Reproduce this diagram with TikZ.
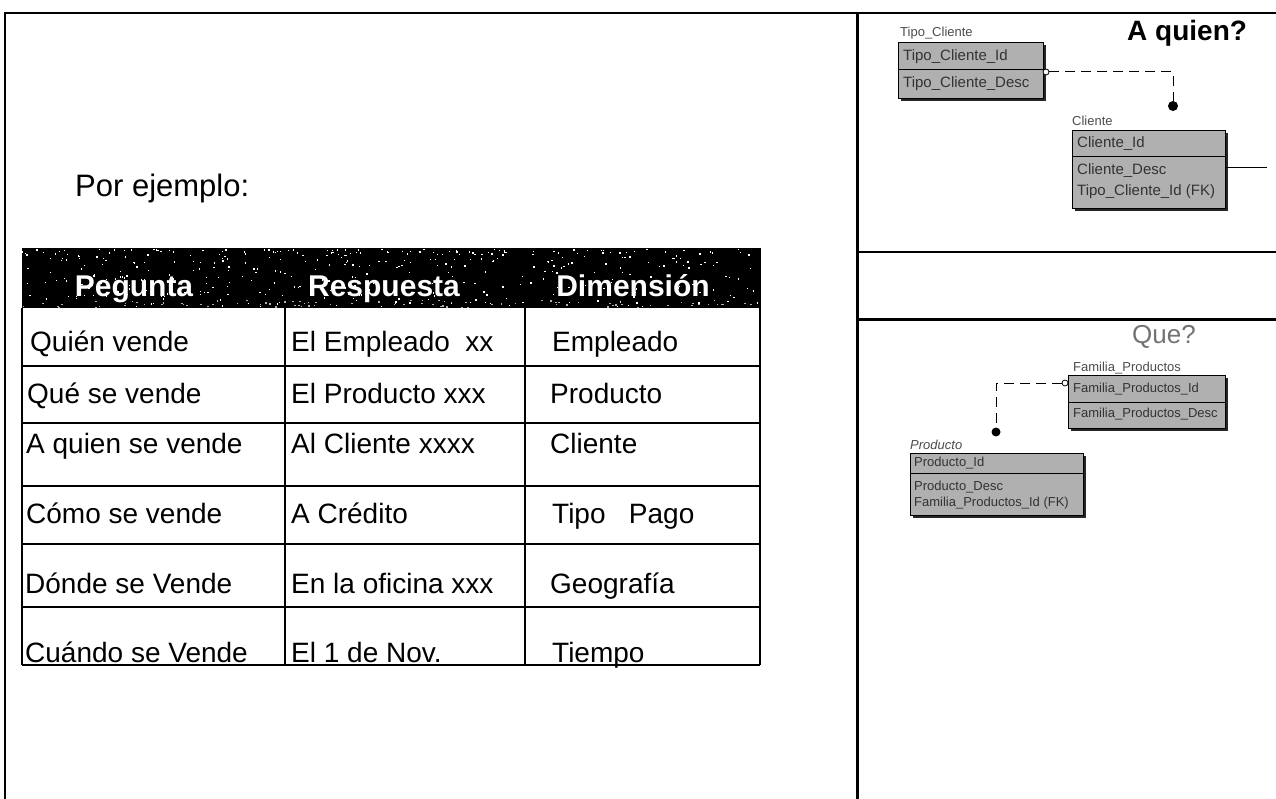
\documentclass[tikz,border=0pt]{standalone}
\usepackage{fontspec}
\setmainfont{Liberation Sans}
\usetikzlibrary{shadows,calc}
\begin{document}
\begin{tikzpicture}[x=1pt,y=-1pt,
  cell/.style={anchor=base west, inner sep=0pt, font=\fontsize{28}{32}\selectfont},
  head/.style={anchor=base, inner sep=0pt, text=white, font=\bfseries\fontsize{30}{34}\selectfont},
  frame/.style={line width=2.2pt},
  ent/.style={draw=black, line width=1.2pt, fill=gray!62, anchor=north west, inner sep=0pt,
    drop shadow={shadow xshift=2pt,shadow yshift=-2pt,fill=black,opacity=0.85}},
  attrA/.style={anchor=west, inner sep=0pt, text=black!80, font=\fontsize{15}{15}\selectfont},
  attrB/.style={anchor=west, inner sep=0pt, text=black!80, font=\fontsize{13}{13}\selectfont},
  elabel/.style={anchor=base west, inner sep=0pt, text=black!70, font=\fontsize{13}{13}\selectfont},
  rel/.style={line width=1pt, dash pattern=on 10pt off 6pt},
  opencirc/.style={circle, draw, fill=white, inner sep=0pt, minimum size=6pt, line width=0.8pt},
  dotcirc/.style={circle, fill=black, inner sep=0pt, minimum size=10pt},
  rowline/.style={line width=1.6pt},
  rowthick/.style={line width=2.6pt}
]
\useasboundingbox (0,0) rectangle (1276,799);
\fill[white] (0,0) rectangle (1276,799);

% frames
\draw[frame] (5,799) -- (5,13) -- (1276,13);
\draw[line width=3pt] (857,13) -- (857,799);
\draw[line width=2.5pt] (857,252) -- (1276,252);
\draw[line width=3pt] (857,320) -- (1276,320);

% left panel
\node[anchor=base west, inner sep=0pt, font=\fontsize{31}{36}\selectfont] (ej) at (75,197) {Por ejemplo:};

% table header
\fill[black] (22,248) rectangle (760,308);
\pgfmathsetseed{7}
\foreach \k in {1,...,380}{
  \pgfmathsetmacro\sx{22+736*rnd}
  \pgfmathsetmacro\sy{249+57*rnd^1.6}
  \fill[white] (\sx,\sy) rectangle ++(1.4,1.4);
}
\foreach \k in {1,...,90}{
  \pgfmathsetmacro\sx{22+736*rnd}
  \pgfmathsetmacro\sy{300+7*rnd}
  \fill[gray!60] (\sx,\sy) rectangle ++(1.6,1.2);
}
\node[head] (h1) at (134,297) {Pegunta};
\node[head] (h2) at (384,297) {Respuesta};
\node[head] (h3) at (633,297) {Dimensión};

% table grid
\draw[rowthick] (22,308) -- (22,665);
\draw[rowthick] (285,308) -- (285,665);
\draw[rowthick] (525,308) -- (525,665);
\draw[line width=1.4pt] (760,248) -- (760,665);
\draw[rowline] (22,366) -- (760,366);
\draw[rowline] (22,423) -- (760,423);
\draw[rowthick] (22,486) -- (760,486);
\draw[rowline] (22,544) -- (760,544);
\draw[rowthick] (22,607) -- (760,607);
\draw[rowthick] (22,665) -- (760,665);

% table cells
\node[cell] (a1) at (30,352) {Quién vende};
\node[cell] (b1) at (291,352) {El Empleado~~xx};
\node[cell] (c1) at (552,352) {Empleado};
\node[cell] (a2) at (27,403) {Qué se vende};
\node[cell] (b2) at (291,403) {El Producto xxx};
\node[cell] (c2) at (550,403) {Producto};
\node[cell] (a3) at (26,453) {A quien se vende};
\node[cell] (b3) at (291,453) {Al Cliente xxxx};
\node[cell] (c3) at (550,453) {Cliente};
\node[cell] (a4) at (26,523) {Cómo se vende};
\node[cell] (b4) at (291,523) {A Crédito};
\node[cell] (c4) at (552,523) {Tipo~~~Pago};
\node[cell] (a5) at (25,593) {Dónde se Vende};
\node[cell] (b5) at (291,593) {En la oficina xxx};
\node[cell] (c5) at (550,593) {Geografía};
\node[cell] (a6) at (25,662) {Cuándo se Vende};
\node[cell] (b6) at (291,662) {El 1 de Nov.};
\node[cell] (c6) at (552,662) {Tiempo};

% ---- A quien? ----
\node[anchor=base west, inner sep=0pt, font=\bfseries\fontsize{28}{30}\selectfont] (aq) at (1127,41) {A quien?};

\node[elabel] (tcl) at (900,37) {Tipo\_Cliente};
\node[ent, minimum width=145pt, minimum height=56pt] (tc) at (898,42) {};
\draw[line width=1pt] (898,70) -- (1043,70);
\node[attrA] (tc1) at (903,57) {Tipo\_Cliente\_Id};
\node[attrA] (tc2) at (903,84) {Tipo\_Cliente\_Desc};

\node[elabel] (cll) at (1072,126) {Cliente};
\node[ent, minimum width=153pt, minimum height=78pt] (cl) at (1072,130) {};
\draw[line width=1pt] (1072,157) -- (1225,157);
\node[attrA] (cl1) at (1077,144) {Cliente\_Id};
\node[attrA] (cl2) at (1077,171) {Cliente\_Desc};
\node[attrA] (cl3) at (1077,192) {Tipo\_Cliente\_Id (FK)};

\node[opencirc] (o1) at (1046,72) {};
\node[dotcirc] (d1) at (1173,106) {};
\draw[rel] (o1.east) -- (o1.east -| d1) -- (d1.north);
\coordinate (cr) at (1267,168);
\draw[line width=1pt] (cl.east |- cr) -- (cr);

% ---- Que? ----
\node[anchor=base west, inner sep=0pt, text=black!55, font=\fontsize{26}{28}\selectfont] (que) at (1132,343) {Que?};

\node[elabel] (fpl) at (1073,371) {Familia\_Productos};
\node[ent, minimum width=157pt, minimum height=53pt] (fp) at (1068,375) {};
\draw[line width=1pt] (1068,402) -- (1225,402);
\node[attrB] (fp1) at (1073,389) {Familia\_Productos\_Id};
\node[attrB] (fp2) at (1073,414) {Familia\_Productos\_Desc};

\node[elabel, font=\itshape\fontsize{13}{13}\selectfont] (prl) at (910,449) {Producto};
\node[ent, minimum width=173pt, minimum height=62pt] (pr) at (910,453) {};
\draw[line width=1pt] (910,473) -- (1083,473);
\node[attrB] (pr1) at (914,463) {Producto\_Id};
\node[attrB] (pr2) at (914,487) {Producto\_Desc};
\node[attrB] (pr3) at (914,503) {Familia\_Productos\_Id (FK)};

\node[opencirc] (o2) at (1065,383) {};
\node[dotcirc, minimum size=9pt] (d2) at (996,432) {};
\draw[rel] (o2.west) -- (o2.west -| d2) -- (d2.north);
\end{tikzpicture}
\end{document}
